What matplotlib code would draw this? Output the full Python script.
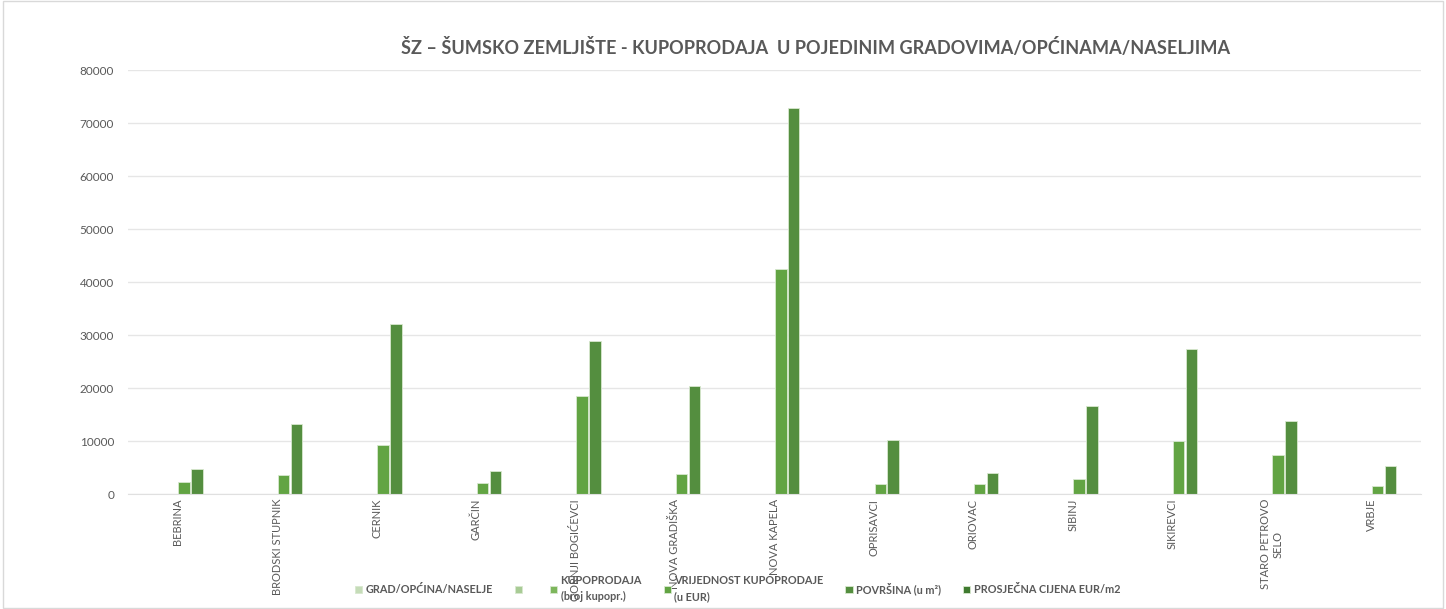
import numpy as np
import matplotlib.pyplot as plt

plt.rcParams['font.family'] = ['Lato', 'DejaVu Sans']

# Data
places = ['BEBRINA', 'BRODSKI STUPNIK', 'CERNIK', 'GARČIN', 'GORNJI BOGIĆEVCI',
          'NOVA GRADIŠKA', 'NOVA KAPELA', 'OPRISAVCI', 'ORIOVAC', 'SIBINJ',
          'SIKIREVCI', 'STARO PETROVO\nSELO', 'VRBJE']
grad = [0] * 13
empty = [0] * 13
kupoprodaja = [0] * 13
vrijednost = [2250, 3500, 9200, 2000, 18550, 3700, 42450, 1900, 1900, 2800, 10000, 7300, 1500]
povrsina = [4650, 13200, 32100, 4300, 28900, 20400, 72800, 10200, 4000, 16600, 27300, 13800, 5200]
cijena = [0] * 13

series = [
    ('GRAD/OPĆINA/NASELJE', grad, '#c5dcb8'),
    (' ', empty, '#a8cb95'),
    ('KUPOPRODAJA\n(broj kupopr.)', kupoprodaja, '#7db65c'),
    ('VRIJEDNOST KUPOPRODAJE\n(u EUR)', vrijednost, '#62a443'),
    ('POVRŠINA (u m²)', povrsina, '#548e3f'),
    ('PROSJEČNA CIJENA EUR/m2', cijena, '#3f7a30'),
]

fig = plt.figure(figsize=(14.46, 6.09), dpi=100)
ax = fig.add_axes([0.0885, 0.1888, 0.894, 0.6962])

x = np.arange(len(places))
slot = 0.13
width = 0.115
for i, (name, vals, col) in enumerate(series):
    ax.bar(x + (i - 2.5) * slot, vals, width, color=col, label=name,
           edgecolor='#d8e8cf', linewidth=0.6)

ax.set_xlim(-0.5, len(places) - 0.5)
ax.set_ylim(0, 80000)
ax.set_yticks(range(0, 80001, 10000))
ax.yaxis.grid(True, color='#e6e6e6', linewidth=1)
ax.set_axisbelow(True)
for s in ax.spines.values():
    s.set_visible(False)
ax.spines['bottom'].set_visible(True)
ax.spines['bottom'].set_color('#e0e0e0')
ax.tick_params(axis='both', length=0, colors='#595959', labelsize=8)
ax.tick_params(axis='y', labelsize=8.5, pad=10)
ax.set_xticks(x)
ax.set_xticklabels(places, rotation=90, ha='center', va='top', multialignment='center')

fig.text(0.564, 0.922, 'ŠZ – ŠUMSKO ZEMLJIŠTE - KUPOPRODAJA  U POJEDINIM GRADOVIMA/OPĆINAMA/NASELJIMA',
         ha='center', va='center', fontsize=13.1, fontweight='bold', color='#595959')

leg = fig.legend(loc='upper center', ncol=6, frameon=False, fontsize=7.8,
                 handlelength=0.7, handleheight=0.7, handletextpad=0.3,
                 columnspacing=2.0, labelspacing=0.3)
for t in leg.get_texts():
    t.set_color('#595959')
    t.set_fontweight('bold')
    t.set_linespacing(1.6)
leg.set_bbox_to_anchor((0.51, 0.072), transform=fig.transFigure)

border = plt.Rectangle((0.002, 0.002), 0.996, 0.996, transform=fig.transFigure,
                       fill=False, edgecolor='#d9d9d9', linewidth=1)
fig.patches.append(border)

fig.savefig('out.png', dpi=100)
